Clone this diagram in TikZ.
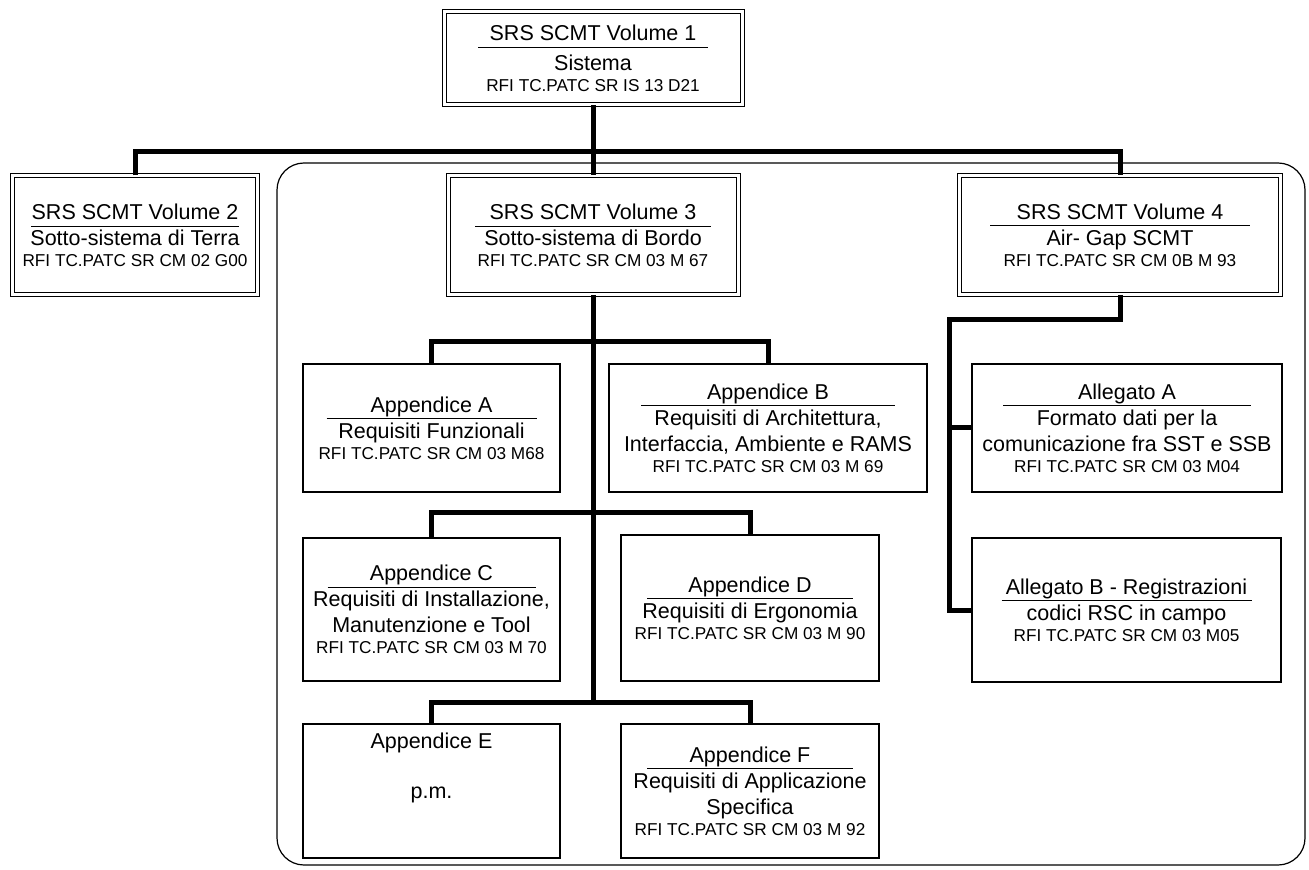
\documentclass[tikz,border=0pt]{standalone}
\usepackage{fontspec}
\setmainfont{Liberation Sans}
\usetikzlibrary{positioning}

\newcommand{\titlefont}{\fontsize{10.75}{13}\selectfont}
\newcommand{\codefont}{\fontsize{8.6}{10.5}\selectfont}
\newcommand{\hd}[2]{\makebox[0pt]{\smash{\rule[-3.5pt]{#1}{0.5pt}}}\makebox[0pt]{#2}}

\begin{document}
\begin{tikzpicture}[x=0.5pt,y=-0.5pt,
    vol/.style={draw,double,double distance=1.5pt,line width=0.5pt,align=center,inner sep=0pt,font=\titlefont},
    app/.style={draw,line width=0.6pt,align=center,inner sep=0pt,font=\titlefont},
    link/.style={line width=2.5pt}]
      \useasboundingbox (0,0) rectangle (1309,870);

    \draw[line width=0.6pt,rounded corners=13.5pt] (277,163) rectangle (1305,865);

    \node[vol, minimum width=149pt, minimum height=46.5pt]   (v_1) at (593,58.5)
        {\hd{115pt}{SRS SCMT Volume 1}\\[2pt] Sistema\\[-2.5pt] {\codefont RFI TC.PATC SR IS 13 D21}};
    \node[vol, minimum width=122.5pt, minimum height=59.5pt] (v_2) at (135,235.5)
        {\hd{104pt}{SRS SCMT Volume 2}\\ Sotto-sistema di Terra\\[-2.5pt] {\codefont RFI TC.PATC SR CM 02 G00}};
    \node[vol, minimum width=145pt, minimum height=59.5pt]   (v_3) at (593,235.5)
        {\hd{118pt}{SRS SCMT Volume 3}\\ Sotto-sistema di Bordo\\[-2.5pt] {\codefont RFI TC.PATC SR CM 03 M 67}};
    \node[vol, minimum width=160.5pt, minimum height=59.5pt] (v_4) at (1120,235)
        {\hd{130pt}{SRS SCMT Volume 4}\\ Air- Gap SCMT\\[-2.5pt] {\codefont RFI TC.PATC SR CM 0B M 93}};

    \node[app, minimum width=128.5pt, minimum height=64pt]   (a_A) at (431.5,428)
        {\hd{105pt}{Appendice A}\\ Requisiti Funzionali\\[-2.5pt] {\codefont RFI TC.PATC SR CM 03 M68}};
    \node[app, minimum width=159pt, minimum height=64pt]     (a_B) at (768,428)
        {\hd{127pt}{Appendice B}\\ Requisiti di Architettura,\\ Interfaccia, Ambiente e RAMS\\[-2.5pt] {\codefont RFI TC.PATC SR CM 03 M 69}};
    \node[app, minimum width=128.5pt, minimum height=71.5pt] (a_C) at (431.5,609.5)
        {\hd{104pt}{Appendice C}\\ Requisiti di Installazione,\\ Manutenzione e Tool\\[-2.5pt] {\codefont RFI TC.PATC SR CM 03 M 70}};
    \node[app, minimum width=129pt, minimum height=73pt]     (a_D) at (750,608)
        {\hd{103pt}{Appendice D}\\ Requisiti di Ergonomia\\[-2.5pt] {\codefont RFI TC.PATC SR CM 03 M 90}};
    \node[app, minimum width=128.5pt, minimum height=67pt]   (a_E) at (431.5,791)
        {Appendice E\\[12pt] p.m.\\[12pt] \mbox{}};
    \node[app, minimum width=129pt, minimum height=67pt]     (a_F) at (750,791)
        {\hd{103pt}{Appendice F}\\ Requisiti di Applicazione\\ Specifica\\[-2.5pt] {\codefont RFI TC.PATC SR CM 03 M 92}};

    \node[app, minimum width=155pt, minimum height=64pt]     (l_A) at (1127,428)
        {\hd{124pt}{Allegato A}\\ Formato dati per la\\ comunicazione fra SST e SSB\\[-2.5pt] {\codefont RFI TC.PATC SR CM 03 M04}};
    \node[app, minimum width=154.5pt, minimum height=72pt]   (l_B) at (1126.5,610)
        {\hd{125pt}{Allegato B - Registrazioni}\\ codici RSC in campo\\[-2.5pt] {\codefont RFI TC.PATC SR CM 03 M05}};

    \coordinate (top) at (593,152);
    \coordinate (b_1) at (593,342);
    \coordinate (b_2) at (593,512);
    \coordinate (b_3) at (593,702);
    \coordinate (g)   at (949,320);

    \draw[link] (v_1.south) -- (v_3.north);
    \draw[link] (v_2.north) |- (top) -| (v_4.north);
    \draw[link] (v_3.south) -- (b_3);
    \draw[link] (a_A.north) |- (b_1) -| (a_B.north);
    \draw[link] (a_C.north) |- (b_2) -| (a_D.north);
    \draw[link] (a_E.north) |- (b_3) -| (a_F.north);
    \draw[link] (v_4.south) |- (g) |- (l_B.west);
    \draw[link] (g |- l_A.west) -- (l_A.west);
\end{tikzpicture}
\end{document}
